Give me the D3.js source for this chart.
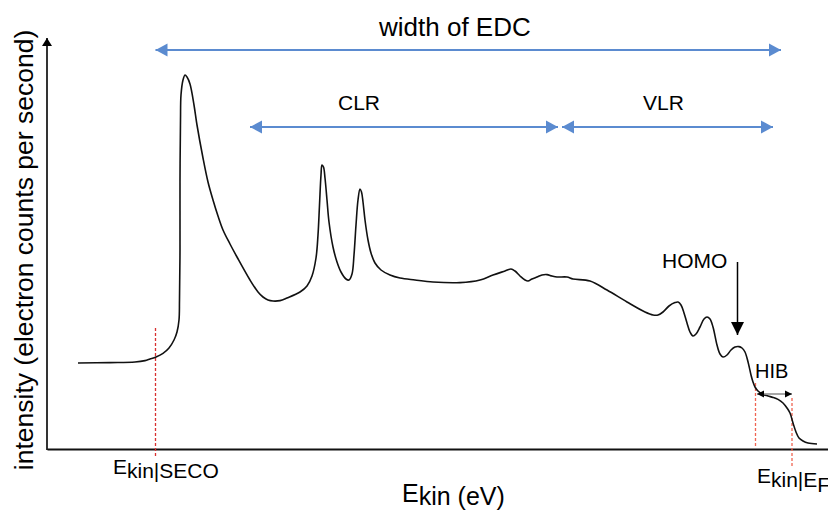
<!DOCTYPE html>
<html>
<head>
<meta charset="utf-8">
<script src="https://cdn.jsdelivr.net/npm/d3@7"></script>
<style>
  html, body { margin: 0; padding: 0; background: #fff; }
  svg { display: block; font-family: "Liberation Sans", Arial, sans-serif; }
</style>
</head>
<body>
<svg id="chart" width="828" height="510"></svg>
<script>
// Energy distribution curve: kinetic energy (eV) vs. intensity (arb. counts)
const energy = [
  3.1, 6.3, 8.8, 9.8, 10.3, 10.9, 11.6, 12.2, 12.7, 13.0, 13.2, 13.25, 13.3, 13.3, 13.35, 13.4,
  13.6, 13.8, 14.0, 14.3, 14.7, 15.0, 15.6, 16.1, 16.6, 17.1, 17.6, 18.3, 19.0, 20.3, 21.1, 21.6,
  22.1, 22.6, 23.3, 24.0, 25.3, 26.0, 26.5, 26.9, 27.1, 27.25, 27.4, 27.5, 27.65, 27.8, 28.0, 28.2,
  28.6, 29.0, 29.4, 29.9, 30.2, 30.5, 30.7, 30.9, 31.1, 31.3, 31.45, 31.6, 31.8, 32.1, 32.4, 32.8,
  33.4, 34.3, 35.3, 36.8, 38.6, 41.3, 43.3, 44.6, 45.8, 46.4, 46.8, 47.3, 47.8, 48.1, 48.5, 49.0,
  49.5, 50.0, 50.5, 51.0, 52.0, 52.6, 54.3, 56.0, 58.0, 59.8, 60.6, 61.1, 61.6, 62.2, 62.8, 63.1,
  63.4, 63.7, 64.0, 64.3, 64.6, 64.9, 65.3, 65.7, 66.0, 66.3, 66.6, 67.0, 67.3, 67.6, 68.0, 68.4,
  68.8, 69.2, 69.5, 69.8, 70.0, 70.2, 70.4, 70.6, 70.8, 71.1, 71.5, 72.1, 72.6, 73.1, 73.6, 74.0,
  74.3, 74.6, 74.9, 75.2, 75.6, 76.1, 77.0
];
const intensity = [
  21.5, 21.6, 21.75, 22.1, 22.5, 23, 23.9, 25.25, 27.25, 29.25, 32.25, 37.25, 49.75, 67.25, 82.25, 88.5,
  92.25, 93.5, 93, 91.25, 86, 81, 72.75, 66.75, 62.25, 58.25, 54.75, 51.25, 48, 42.25, 39.25, 38,
  37.25, 37, 37.1, 37.75, 39.25, 40.75, 43.25, 47.75, 53.5, 61, 68.5, 71, 70.5, 67.75, 62.25, 56.75,
  50.5, 46.75, 44.25, 42.5, 42.25, 43.75, 48.5, 56, 62.25, 65, 64.25, 61.75, 57.25, 52.25, 49, 46.5,
  44.75, 43.5, 42.75, 42.25, 41.75, 41.6, 42.25, 43.5, 44.5, 45, 44.5, 43.25, 42.25, 42, 42.5, 43,
  43.5, 43.6, 43.25, 43, 43, 42.5, 42, 39.75, 36.75, 34.25, 33.5, 33.5, 34.25, 35.75, 36.6, 36.75,
  36, 34, 31.5, 29.25, 28.25, 28.75, 30.5, 32.5, 33, 32.5, 30.5, 26, 23.75, 23, 23.5, 24.75,
  25.5, 25.6, 25.25, 24.25, 22.75, 20.75, 18.5, 16.75, 15.5, 14.5, 13.75, 13.25, 12.9, 12.4, 11.5, 10.25,
  9, 6.5, 4.25, 2.75, 2, 1.5, 1.25
];

// Characteristic energies (eV)
const secoEnergy = 10.85;      // secondary electron cut-off
const fermiEnergy = 74.5;      // Fermi edge
const hibOnset = 70.85;        // onset of the HIB region
const homoEnergy = 69.05;      // HOMO peak position

// Region spans [start, end] in eV
const edcSpan = [10.85, 73.4];
const clrSpan = [20.3, 51.1];
const vlrSpan = [51.5, 72.6];

const svg = d3.select("#chart");
const x = d3.scaleLinear().domain([0, 78.1]).range([47, 828]);
const y = d3.scaleLinear().domain([0, 103]).range([449, 37]);

const blue = "#5b8bd0";
const redDark = "#d83030";
const redLight = "#f06452";

// Arrowhead markers
const defs = svg.append("defs");
function marker(id, color, len, half, reverse) {
  const m = defs.append("marker")
    .attr("id", id)
    .attr("markerUnits", "userSpaceOnUse")
    .attr("markerWidth", len + 2)
    .attr("markerHeight", half * 2 + 2)
    .attr("viewBox", `0 ${-half - 1} ${len + 2} ${half * 2 + 2}`)
    .attr("refX", len)
    .attr("refY", 0)
    .attr("orient", reverse ? "auto-start-reverse" : "auto");
  m.append("path").attr("d", `M0,${-half}L${len},0L0,${half}Z`).attr("fill", color);
}
marker("blueHead", blue, 12, 6.5, true);
marker("blackHead", "#000", 13, 6.5, false);
marker("smallHead", "#000", 7, 3.5, true);
marker("axisHead", "#000", 8, 5, false);

// Axes (no ticks)
svg.append("g")
  .attr("transform", `translate(0,${y(0)})`)
  .call(d3.axisBottom(x).tickValues([]).tickSizeOuter(0))
  .call(g => g.select(".domain").attr("stroke", "#111").attr("stroke-width", 2));

svg.append("line")
  .attr("x1", x(0)).attr("x2", x(0))
  .attr("y1", y(0) + 1).attr("y2", y(103) + 1)
  .attr("stroke", "#000").attr("stroke-width", 1.6)
  .attr("marker-end", "url(#axisHead)");

// Red dashed marker lines
svg.append("line")
  .attr("x1", x(secoEnergy)).attr("x2", x(secoEnergy))
  .attr("y1", y(30.25)).attr("y2", y(-2))
  .attr("stroke", redDark).attr("stroke-width", 1.3).attr("stroke-dasharray", "3,2");
svg.append("line")
  .attr("x1", x(hibOnset)).attr("x2", x(hibOnset))
  .attr("y1", y(16.5)).attr("y2", y(0.75))
  .attr("stroke", redLight).attr("stroke-width", 1.3).attr("stroke-dasharray", "3,2");
svg.append("line")
  .attr("x1", x(fermiEnergy)).attr("x2", x(fermiEnergy))
  .attr("y1", y(12.75)).attr("y2", y(-4.5))
  .attr("stroke", redLight).attr("stroke-width", 1.3).attr("stroke-dasharray", "3,2");

// Spectrum curve
const pts = energy.map((e, i) => [e, intensity[i]]);
svg.append("path")
  .datum(pts)
  .attr("fill", "none")
  .attr("stroke", "#111")
  .attr("stroke-width", 1.6)
  .attr("stroke-linejoin", "round")
  .attr("d", d3.line().x(d => x(d[0])).y(d => y(d[1])).curve(d3.curveCatmullRom.alpha(0.5)));

// Region arrows
function spanArrow(span, level) {
  svg.append("line")
    .attr("x1", x(span[0])).attr("x2", x(span[1]))
    .attr("y1", y(level)).attr("y2", y(level))
    .attr("stroke", blue).attr("stroke-width", 2)
    .attr("marker-start", "url(#blueHead)")
    .attr("marker-end", "url(#blueHead)");
}
spanArrow(edcSpan, 99.75);
spanArrow(clrSpan, 80.5);
spanArrow(vlrSpan, 80.5);

// HOMO arrow
svg.append("line")
  .attr("x1", x(homoEnergy)).attr("x2", x(homoEnergy))
  .attr("y1", y(46.75)).attr("y2", y(28.5))
  .attr("stroke", "#000").attr("stroke-width", 1.5)
  .attr("marker-end", "url(#blackHead)");

// HIB arrow
svg.append("line")
  .attr("x1", x(71.0)).attr("x2", x(fermiEnergy))
  .attr("y1", y(13.75)).attr("y2", y(13.75))
  .attr("stroke", "#8a8a8a").attr("stroke-width", 1.5)
  .attr("marker-start", "url(#smallHead)")
  .attr("marker-end", "url(#smallHead)");

// Labels
const label = (tx, ty, txt, size) =>
  svg.append("text").attr("x", tx).attr("y", ty).attr("font-size", size).attr("fill", "#000").text(txt);

label(379, 36, "width of EDC", 26);
label(338, 110, "CLR", 21);
label(643, 110, "VLR", 21);
label(662, 268, "HOMO", 21);
label(755, 378, "HIB", 20);

// Subscripted energy labels
function subLabel(tx, ty, parts, size) {
  const t = svg.append("text").attr("x", tx).attr("y", ty).attr("font-size", size).attr("fill", "#000");
  parts.forEach(p => t.append("tspan").attr("dy", p.dy).text(p.text));
  return t;
}
subLabel(113, 474, [{ text: "E", dy: 0 }, { text: "kin|SECO", dy: 4 }], 21);
subLabel(757, 483, [{ text: "E", dy: 0 }, { text: "kin|E", dy: 4 }, { text: "F", dy: 5 }], 21);
subLabel(402, 502, [{ text: "E", dy: 0 }, { text: "kin (eV)", dy: 3 }], 25);

// Y-axis title
svg.append("text")
  .attr("transform", "translate(33,250) rotate(-90)")
  .attr("text-anchor", "middle")
  .attr("font-size", 26.5)
  .attr("fill", "#000")
  .text("intensity (electron counts per second)");
</script>
</body>
</html>
